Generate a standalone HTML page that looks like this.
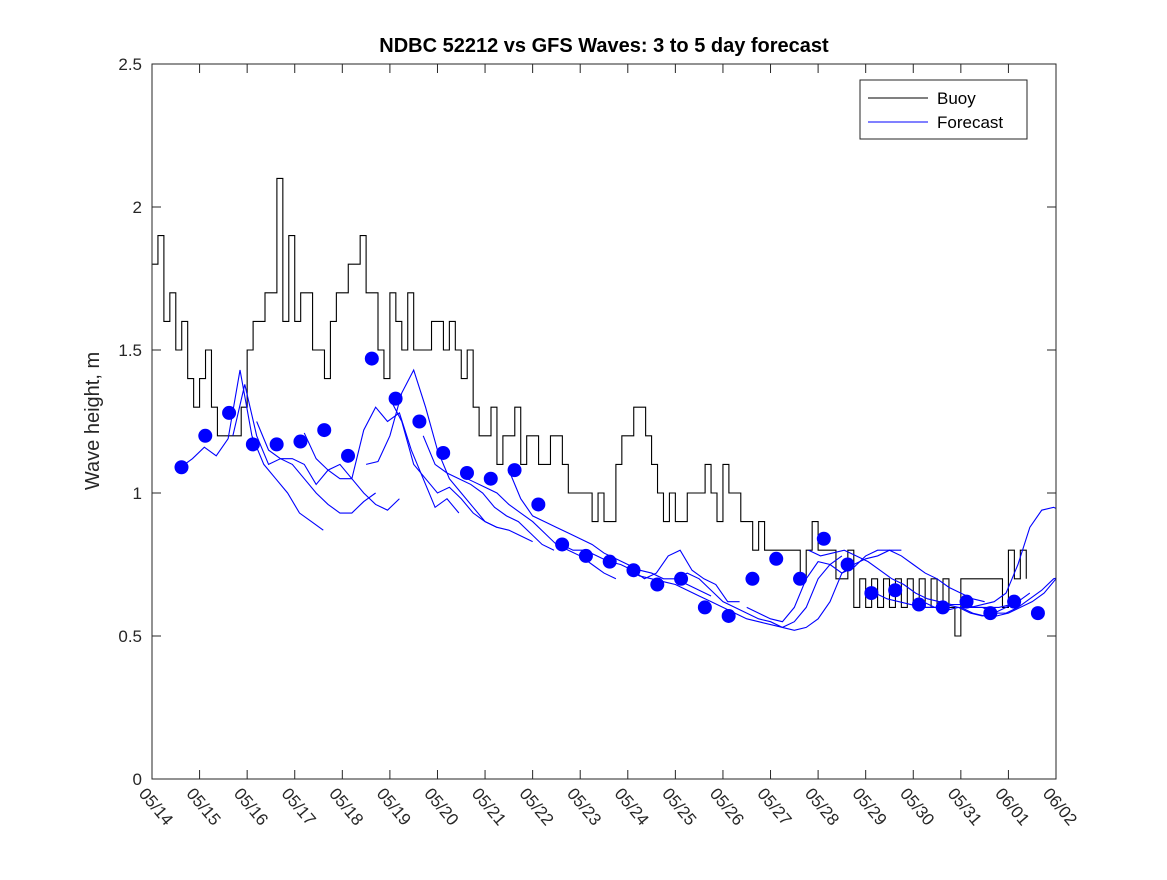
<!DOCTYPE html>
<html><head><meta charset="utf-8"><style>body{margin:0;background:#fff}svg{font-family:"Liberation Sans","DejaVu Sans",sans-serif}</style></head>
<body>
<svg id="chart" width="1167" height="875" viewBox="0 0 1167 875">
<rect width="1167" height="875" fill="#fff"/>
<text x="604" y="52" text-anchor="middle" font-size="20" font-weight="bold">NDBC 52212 vs GFS Waves: 3 to 5 day forecast</text>
<text transform="translate(99,421) rotate(-90)" text-anchor="middle" font-size="20" fill="#262626">Wave height, m</text>
<g id="plot"></g>
<rect x="152" y="64" width="904" height="715" fill="none" stroke="#262626" stroke-width="1"/>
<g>
<rect x="860" y="80" width="167" height="59" fill="#fff" stroke="#262626"/>
<line x1="868" y1="98" x2="928" y2="98" stroke="#000"/>
<text x="937" y="104" font-size="17">Buoy</text>
<line x1="868" y1="122" x2="928" y2="122" stroke="#00f"/>
<text x="937" y="128" font-size="17">Forecast</text>
</g>
</svg>
<script>
const dayLabels=["05/14","05/15","05/16","05/17","05/18","05/19","05/20","05/21","05/22","05/23","05/24","05/25","05/26","05/27","05/28","05/29","05/30","05/31","06/01","06/02"];
const yTicks=[0,0.5,1,1.5,2,2.5];
const buoyValues=[1.8,1.9,1.6,1.7,1.5,1.6,1.4,1.3,1.4,1.5,1.3,1.2,1.2,1.2,1.2,1.3,
1.5,1.6,1.6,1.7,1.7,2.1,1.6,1.9,1.6,1.7,1.7,1.5,1.5,1.4,1.6,1.7,
1.7,1.8,1.8,1.9,1.7,1.7,1.5,1.4,1.7,1.6,1.5,1.7,1.5,1.5,1.5,1.6,
1.6,1.5,1.6,1.5,1.4,1.5,1.3,1.2,1.2,1.3,1.1,1.2,1.2,1.3,1.1,1.2,
1.2,1.1,1.1,1.2,1.2,1.1,1.0,1.0,1.0,1.0,0.9,1.0,0.9,0.9,1.1,1.2,
1.2,1.3,1.3,1.2,1.1,1.0,0.9,1.0,0.9,0.9,1.0,1.0,1.0,1.1,1.0,0.9,
1.1,1.0,1.0,0.9,0.9,0.8,0.9,0.8,0.8,0.8,0.8,0.8,0.8,0.7,0.8,0.9,
0.8,0.8,0.8,0.7,0.7,0.8,0.6,0.7,0.6,0.7,0.6,0.7,0.6,0.7,0.6,0.7,
0.6,0.7,0.6,0.7,0.6,0.7,0.6,0.5,0.7,0.7,0.7,0.7,0.7,0.7,0.7,0.6,
0.8,0.7,0.8,0.7];
const buoyStep=0.125;
const buoyStart=0;
const dotValues=[1.09,1.20,1.28,1.17,1.17,1.18,1.22,1.13,1.47,1.33,1.25,1.14,1.07,1.05,1.08,0.96,0.82,0.78,0.76,0.73,0.68,0.70,0.60,0.57,0.70,0.77,0.70,0.84,0.75,0.65,0.66,0.61,0.60,0.62,0.58,0.62,0.58];
const dotStart=0.62, dotStep=0.5;
const runStarts=[0.6,1.7,2.2,3.2,4.5,5.0,5.7,6.5,7.5,8.6,10.0,11.0,12.5,13.8,15.2,16.2,17.0,17.2];
const runValues=[
[1.09,1.12,1.16,1.13,1.19,1.43,1.2,1.1,1.05,1.0,0.93,0.9,0.87],
[1.2,1.38,1.2,1.1,1.12,1.1,1.05,1.0,0.96,0.93,0.93,0.97,1.0],
[1.25,1.15,1.12,1.12,1.1,1.03,1.08,1.1,1.05,1.0,0.96,0.94,0.98],
[1.21,1.12,1.08,1.05,1.05,1.22,1.3,1.25,1.28,1.15,1.05,0.95,0.98,0.93],
[1.1,1.11,1.2,1.35,1.43,1.3,1.15,1.05,1.0,0.95,0.9,0.88],
[1.33,1.25,1.1,1.05,1.0,1.02,0.98,0.93,0.9,0.88,0.87,0.85,0.83],
[1.2,1.1,1.07,1.05,1.03,1.0,0.95,0.92,0.9,0.86,0.82,0.8],
[1.06,1.04,1.02,1.0,0.96,0.93,0.9,0.86,0.82,0.8,0.78,0.75,0.72,0.7],
[1.08,0.98,0.92,0.9,0.88,0.86,0.84,0.82,0.79,0.77,0.75,0.73,0.72,0.7,0.7,0.68,0.66,0.64],
[0.82,0.8,0.8,0.78,0.76,0.75,0.73,0.7,0.72,0.78,0.8,0.73,0.7,0.68,0.62,0.62],
[0.73,0.71,0.7,0.69,0.68,0.66,0.64,0.62,0.6,0.58,0.56,0.55,0.54,0.53,0.55,0.6,0.7,0.75,0.78],
[0.7,0.72,0.7,0.66,0.62,0.6,0.58,0.56,0.55,0.53,0.52,0.53,0.56,0.62,0.72,0.75,0.77,0.78,0.8,0.8],
[0.6,0.58,0.56,0.55,0.6,0.7,0.76,0.75,0.72,0.74,0.78,0.8,0.8,0.78,0.75,0.72,0.7,0.67,0.65,0.63,0.62],
[0.8,0.78,0.79,0.8,0.78,0.76,0.73,0.7,0.68,0.65,0.63,0.62,0.61,0.61,0.6,0.6,0.6,0.61],
[0.65,0.63,0.62,0.61,0.6,0.6,0.61,0.6,0.58,0.57,0.58,0.6,0.62,0.65],
[0.62,0.6,0.59,0.6,0.6,0.61,0.62,0.65,0.75,0.88,0.94,0.95,0.93],
[0.6,0.58,0.57,0.57,0.58,0.6,0.62,0.65,0.7,0.78,0.84],
[0.6,0.6,0.58,0.58,0.6,0.63,0.66,0.7,0.71]];
const runStep=0.25;

const X0=152,X1=1056,Y0=779,Y1=64,DAYS=19,YMAX=2.5;
const xs=d=>X0+(X1-X0)*d/DAYS;
const ys=v=>Y0-(Y0-Y1)*v/YMAX;
const NS="http://www.w3.org/2000/svg";
const plot=document.getElementById('plot');
function mk(t,a){const e=document.createElementNS(NS,t);for(const k in a)e.setAttribute(k,a[k]);return e;}
const defs=mk('defs',{});const cp=mk('clipPath',{id:'clip'});cp.appendChild(mk('rect',{x:X0,y:Y1,width:X1-X0,height:Y0-Y1}));defs.appendChild(cp);plot.appendChild(defs);
yTicks.forEach(v=>{
 const l=mk('line',{x1:X0,x2:X0+9,y1:ys(v),y2:ys(v),stroke:'#262626'});
 
 
 plot.appendChild(l);
 const r=mk('line',{x1:X1-9,x2:X1,y1:ys(v),y2:ys(v),stroke:'#262626'});
 
 
 plot.appendChild(r);
 const t=mk('text',{x:X0-10,y:ys(v)+6,'text-anchor':'end','font-size':17,fill:'#262626'});
 t.textContent=String(v);
 
 
 plot.appendChild(t);
});
dayLabels.forEach((s,i)=>{
 const x=xs(i);
 const l=mk('line',{x1:x,x2:x,y1:Y0,y2:Y0-9,stroke:'#262626'});
 
 
 plot.appendChild(l);
 const u=mk('line',{x1:x,x2:x,y1:Y1,y2:Y1+9,stroke:'#262626'});
 
 
 plot.appendChild(u);
 const t=mk('text',{transform:`translate(${x-14},${Y0+15}) rotate(50)`,'font-size':17,fill:'#262626'});
 t.textContent=s;
 
 
 plot.appendChild(t);
});
const g=mk('g',{'clip-path':'url(#clip)'});plot.appendChild(g);
let d='';
buoyValues.forEach((v,i)=>{const x=xs(buoyStart+i*buoyStep);d+=(i?`L${x},${ys(buoyValues[i-1])}L${x},${ys(v)}`:`M${x},${ys(v)}`);});
const bp=mk('path',{d,fill:'none',stroke:'#000','stroke-width':1.1});


g.appendChild(bp);
runValues.forEach((arr,r)=>{
 const pd=arr.map((v,i)=>(i?'L':'M')+xs(runStarts[r]+i*runStep)+','+ys(v)).join('');
 const p=mk('path',{d:pd,fill:'none',stroke:'#00f','stroke-width':1.1});
 
 
 g.appendChild(p);
});
dotValues.forEach((v,i)=>{
 const c=mk('circle',{cx:xs(dotStart+i*dotStep),cy:ys(v),r:7,fill:'#00f'});
 
 
 g.appendChild(c);
});
</script>
</body></html>
